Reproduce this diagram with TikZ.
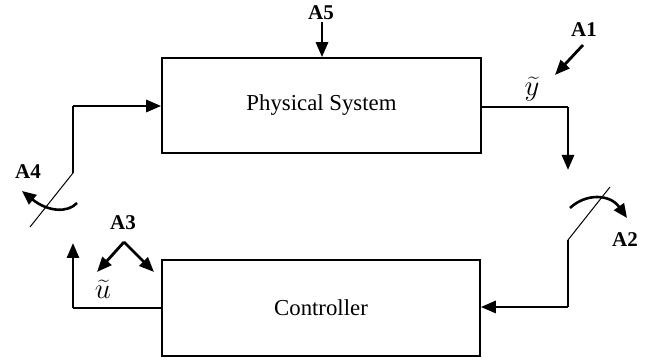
\documentclass[tikz,border=0pt]{standalone}
\usepackage{fontspec}
\setmainfont{Liberation Serif}
\usetikzlibrary{arrows.meta}
\begin{document}
\begin{tikzpicture}[x=0.5pt,y=-0.5pt,
  blockbox/.style={draw,line width=0.8pt,inner sep=0pt,font=\fontsize{11.4}{13}\selectfont},
  thinline/.style={line width=0.75pt},
  thickarrow/.style={line width=1.4pt,-{Triangle[length=7.5pt,width=6pt]}},
  thickline/.style={line width=1.4pt},
  swline/.style={line width=0.5pt},
  lbl/.style={font=\fontsize{10.5}{12}\bfseries\selectfont,inner sep=0pt},
  sig/.style={font=\fontsize{15}{17}\selectfont,inner sep=0pt}]
\useasboundingbox (0,0) rectangle (660,362);
\node[blockbox,minimum width=159.5pt,minimum height=47.5pt] (ps) at (321.5,105.5) {Physical System};
\node[blockbox,minimum width=159pt,minimum height=48pt] (ctrl) at (321,308) {Controller};
% coordinates
\coordinate (outc) at (568,107);
\coordinate (outtip) at (568,170);
\coordinate (sw2a) at (568,240);
\coordinate (sw2b) at (610,187);
\coordinate (sw2c) at (568,307);
\coordinate (inc) at (73,308);
\coordinate (intip) at (73,243);
\coordinate (sw4a) at (73,173);
\coordinate (sw4b) at (30,227);
\coordinate (sw4c) at (73,106);
\coordinate (a5s) at (322,22);
\coordinate (a1s) at (583,45);
\coordinate (a1e) at (555,75);
\coordinate (a3s) at (124,242);
\coordinate (a3l) at (97,272);
\coordinate (a3r) at (154,272);
% output path
\draw[thinline] (ps.east |- outc) -- (outc);
\draw[thickarrow] (outc) -- (outtip);
% switch A2
\draw[swline] (sw2a) -- (sw2b);
\draw[thickline] (sw2a) -- (sw2c);
\draw[thickarrow] (sw2c) -- (ctrl.east |- sw2c);
\draw[line width=1.3pt,-{Triangle[length=7pt,width=6pt]}] (570,208) .. controls (586,193) and (610,194) .. (627,218);
% controller output
\draw[thinline] (ctrl.west |- inc) -- (inc);
\draw[thickarrow] (inc) -- (intip);
% switch A4
\draw[swline] (sw4a) -- (sw4b);
\draw[line width=1pt] (sw4a) -- (sw4c);
\draw[thickarrow] (sw4c) -- (ps.west |- sw4c);
\draw[line width=1.3pt,-{Triangle[length=7pt,width=6pt]}] (77,203) .. controls (68,213) and (48,212) .. (22,191);
% disturbances
\draw[thickarrow] (a5s) -- (a5s |- ps.north);
\draw[thickarrow] (a1s) -- (a1e);
\draw[thickarrow] (a3s) -- (a3l);
\draw[thickarrow] (a3s) -- (a3r);
% labels
\node[lbl] (la5) at (321,13) {A5};
\node[lbl] (la1) at (584,30) {A1};
\node[lbl] (la2) at (625,240) {A2};
\node[lbl] (la3) at (123,223) {A3};
\node[lbl] (la4) at (28,172) {A4};
\node[sig] (ly) at (532,89) {$\widetilde{y}$};
\node[sig] (lu) at (103,289) {$\widetilde{u}$};
\end{tikzpicture}
\end{document}
